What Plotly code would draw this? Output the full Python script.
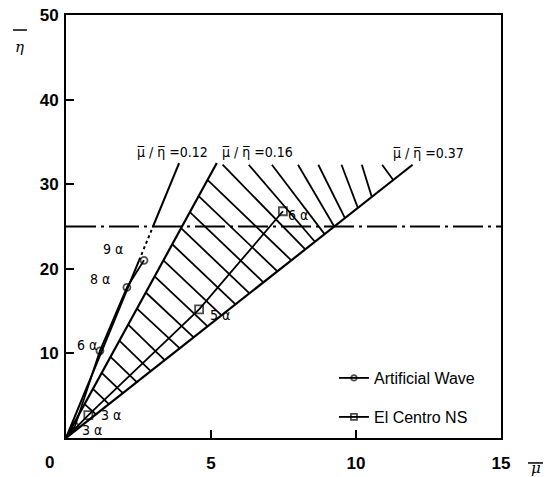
import plotly.graph_objects as go

# ---------------- data ----------------
# Artificial wave (circles)
aw_mu = [0.0, 0.31, 1.17, 2.10, 2.69]
aw_eta = [0.0, 1.4, 10.3, 17.8, 21.0]
aw_labels = ["", "3 α", "6 α", "8 α", "9 α"]

# El Centro NS (squares)
ec_mu = [0.0, 0.77, 4.59, 7.48]
ec_eta = [0.0, 2.7, 15.2, 26.8]
ec_labels = ["", "3 α", "5 α", "6 α"]

# reference ratio lines mu/eta
ratios = [0.12, 0.16, 0.37]
ratio_top_eta = [32.5, 32.5, 32.3]
ratio_labels = ["μ̅ / η̅ =0.12", "μ̅ / η̅ =0.16", "μ̅ / η̅ =0.37"]

# horizontal limit line
eta_limit = 25

# hatching between 0.16 and 0.37 lines
hatch_start_eta = [30.5, 28.6, 26.7, 24.8, 22.9, 21.0, 19.1, 17.2, 15.3, 13.4, 11.5, 9.6, 7.7, 5.8, 4.0]
hatch_end_eta = [21.0, 19.7, 18.4, 17.1, 15.8, 14.5, 13.2, 11.9, 10.6, 9.2, 7.9, 6.6, 5.3, 4.0, 2.8]
hatch_top_eta = 32.3
hatch_top_mu = [5.4, 6.3, 7.1, 8.0, 8.7, 9.5, 10.2, 10.9]
hatch_top_end_eta = [22.3, 23.2, 24.1, 25.0, 26.0, 27.2, 28.5, 30.5]

x_ticks = [5, 10, 15]
y_ticks = [10, 20, 30, 40, 50]

# ---------------- figure ----------------
fig = go.Figure()

BLACK = "black"

# hatch lines
hx, hy = [], []
r_lo, r_hi = ratios[1], ratios[2]
for s, e in zip(hatch_start_eta, hatch_end_eta):
    hx += [r_lo * s, r_hi * e, None]
    hy += [s, e, None]
for m, e in zip(hatch_top_mu, hatch_top_end_eta):
    hx += [m, r_hi * e, None]
    hy += [hatch_top_eta, e, None]
fig.add_trace(go.Scatter(x=hx, y=hy, mode="lines", line=dict(color=BLACK, width=1.8),
                         showlegend=False, hoverinfo="skip"))

# reference ratio lines
# 0.12: solid to ~9 alpha, dotted up to the limit line, solid above
r12 = ratios[0]
fig.add_trace(go.Scatter(x=[0, r12 * aw_eta[-1], None, r12 * eta_limit, r12 * ratio_top_eta[0]],
                         y=[0, aw_eta[-1], None, eta_limit, ratio_top_eta[0]],
                         mode="lines", line=dict(color=BLACK, width=2),
                         showlegend=False, hoverinfo="skip"))
fig.add_trace(go.Scatter(x=[r12 * aw_eta[-1], r12 * eta_limit], y=[aw_eta[-1], eta_limit],
                         mode="lines", line=dict(color=BLACK, width=2, dash="dot"),
                         showlegend=False, hoverinfo="skip"))
for r, t in zip(ratios[1:], ratio_top_eta[1:]):
    fig.add_trace(go.Scatter(x=[0, r * t], y=[0, t], mode="lines",
                             line=dict(color=BLACK, width=2.2),
                             showlegend=False, hoverinfo="skip"))

# horizontal dash-dot line
fig.add_trace(go.Scatter(x=[0, 15], y=[eta_limit, eta_limit], mode="lines",
                         line=dict(color=BLACK, width=1.8, dash="30px,5px,3px,5px"),
                         showlegend=False, hoverinfo="skip"))

# data series
fig.add_trace(go.Scatter(x=aw_mu, y=aw_eta, mode="lines+markers", name="Artificial Wave",
                         line=dict(color=BLACK, width=1.8),
                         marker=dict(symbol="circle-open", size=[0] + [7] * (len(aw_mu) - 1),
                                     color=BLACK, line=dict(width=1.8)),
                         legend="legend"))
fig.add_trace(go.Scatter(x=ec_mu, y=ec_eta, mode="lines+markers", name="El Centro NS",
                         line=dict(color=BLACK, width=1.8),
                         marker=dict(symbol="square-open", size=[0] + [8] * (len(ec_mu) - 1),
                                     color=BLACK, line=dict(width=1.8)),
                         legend="legend2"))

# ---------------- annotations ----------------
lab_font = dict(family="DejaVu Sans Condensed", size=14, color=BLACK)
ann = []
ratio_label_pos = [(3.66, 33.8), (6.59, 33.8), (12.5, 33.7)]
for txt, (x, y) in zip(ratio_labels, ratio_label_pos):
    ann.append(dict(x=x, y=y, text=txt, showarrow=False, font=lab_font))

aw_label_pos = [None, (0.9, 0.95), (0.31, 11.0), (1.17, 18.8), (1.62, 22.3)]
for txt, p in zip(aw_labels, aw_label_pos):
    if p:
        ann.append(dict(x=p[0], y=p[1], text=txt, showarrow=False, font=lab_font,
                        xanchor="left" if txt == "6 α" else "center"))
ec_label_pos = [None, (1.55, 2.7), (5.31, 14.5), (8.0, 26.4)]
for txt, p in zip(ec_labels, ec_label_pos):
    if p:
        ann.append(dict(x=p[0], y=p[1], text=txt, showarrow=False, font=lab_font))

tick_font = dict(family="Liberation Sans", size=17, color=BLACK, weight="bold")
ann.append(dict(x=-0.0368, y=-0.057, xref="paper", yref="paper", text="0",
                xanchor="center", yanchor="middle", showarrow=False, font=tick_font))
# axis titles
title_font = dict(family="DejaVu Serif", size=15, color=BLACK, style="italic")
ann.append(dict(x=-0.108, y=0.925, xref="paper", yref="paper", text="η", showarrow=False,
                xanchor="center", yanchor="middle", font=title_font))
ann.append(dict(x=1.0805, y=-0.07, xref="paper", yref="paper", text="μ", showarrow=False,
                xanchor="center", yanchor="middle", font=title_font))

shapes = [
    dict(type="line", xref="paper", yref="paper", x0=-0.1218, x1=-0.0897, y0=0.9645, y1=0.9645,
         line=dict(color=BLACK, width=1.5)),
    dict(type="line", xref="paper", yref="paper", x0=1.062, x1=1.0966, y0=-0.059, y1=-0.059,
         line=dict(color=BLACK, width=1.5)),
]

axis_common = dict(showgrid=False, zeroline=False, showline=True, linecolor=BLACK, linewidth=2,
                   mirror=True, ticks="inside", ticklen=8, tickwidth=1.8, tickcolor=BLACK,
                   tickfont=tick_font, automargin=False)

fig.update_layout(
    width=548, height=477,
    margin=dict(l=66, r=47, t=15, b=39),
    paper_bgcolor="white", plot_bgcolor="white",
    xaxis=dict(range=[0, 15], tickvals=x_ticks, ticklabelstandoff=9, **axis_common),
    yaxis=dict(range=[0, 50], tickvals=y_ticks, ticklabelstandoff=2, **axis_common),
    annotations=ann,
    shapes=shapes,
    legend=dict(x=0.616, y=0.1418, xanchor="left", yanchor="middle", bgcolor="rgba(0,0,0,0)",
                font=dict(family="Liberation Sans", size=16, color=BLACK)),
    legend2=dict(x=0.616, y=0.0496, xanchor="left", yanchor="middle", bgcolor="rgba(0,0,0,0)",
                 font=dict(family="Liberation Sans", size=16, color=BLACK)),
)

fig.write_html("out.html")
